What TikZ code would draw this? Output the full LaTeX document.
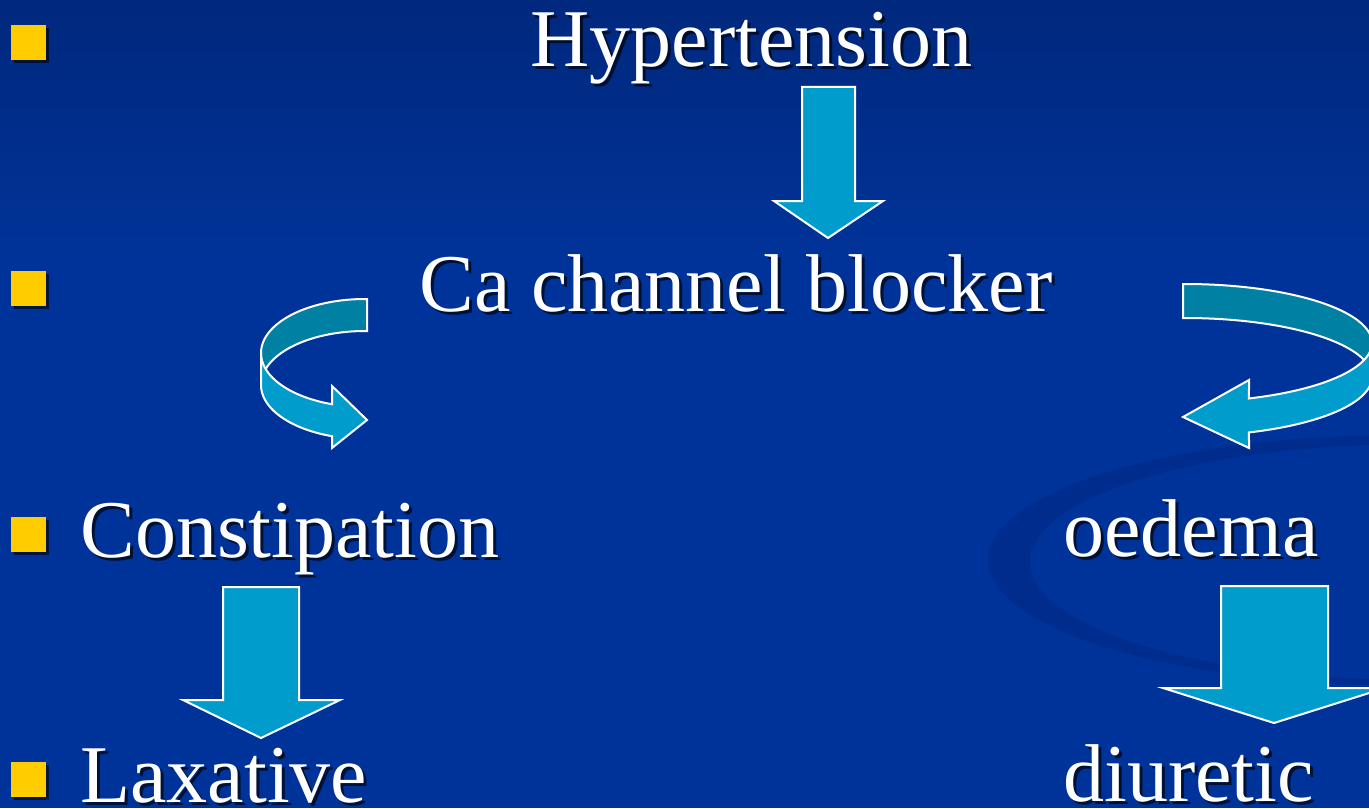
\documentclass[tikz,border=0pt]{standalone}
\usepackage{fontspec}
\setmainfont{Liberation Serif}
\usetikzlibrary{calc}
\definecolor{bgtop}{RGB}{0,40,125}
\definecolor{bgmain}{RGB}{0,51,153}
\definecolor{swoosh}{RGB}{0,38,128}
\definecolor{arrowfront}{RGB}{0,157,204}
\definecolor{arrowback}{RGB}{0,128,163}
\definecolor{bulletyellow}{RGB}{255,204,0}
\tikzset{
  label text/.style={text=white, inner sep=0pt, font=\fontsize{41}{49}\selectfont},
  shadow text/.style={text=black, opacity=0.65, inner sep=0pt, font=\fontsize{41}{49}\selectfont},
  blockarrow/.style={fill=arrowfront, draw=white, line width=1pt, line join=miter},
  backband/.style={fill=arrowback, draw=white, line width=1pt, line join=miter},
  bulletbox/.style={fill=bulletyellow, draw=none},
  bulletshadow/.style={fill=black, opacity=0.6, draw=none}
}
\begin{document}
\begin{tikzpicture}[x=0.5pt, y=-0.5pt]
\useasboundingbox (0,0) rectangle (1369,808);
\clip (0,0) rectangle (1369,808);
% background
\fill[bgmain] (0,0) rectangle (1369,808);
\shade[top color=bgtop, bottom color=bgmain] (0,0) rectangle (1369,260);
% background swoosh
\fill[swoosh, opacity=0.45, even odd rule]
  plot[domain=0:360, samples=120] ({1400+412*cos(\x)}, {560-125*sin(\x)})
  plot[domain=0:360, samples=120] ({1415+385*cos(\x)}, {562-118*sin(\x)});

% bullets
\foreach \n/\y in {1/25, 2/271, 3/517, 4/762} {
  \fill[bulletshadow] (14,\y+3) rectangle (49,\y+38);
  \fill[bulletbox] (11,\y) rectangle (46,\y+35) coordinate (b\n);
}

% text nodes (shadow, then white)
\foreach \px/\py/\anc/\txt in {751.5/67/base/Hypertension, 736/311/base/Ca channel blocker,
    80/557/base west/Constipation, 1063/556/base west/oedema,
    80/802/base west/Laxative, 1063/801/base west/diuretic} {
  \node[shadow text, anchor=\anc] at (\px+3,\py+3) {\txt};
}
\node[label text, anchor=base] (hyp) at (751.5,67) {Hypertension};
\node[label text, anchor=base] (ccb) at (736,311) {Ca channel blocker};
\node[label text, anchor=base west] (con) at (80,557) {Constipation};
\node[label text, anchor=base west] (oed) at (1063,556) {oedema};
\node[label text, anchor=base west] (lax) at (80,802) {Laxative};
\node[label text, anchor=base west] (diu) at (1063,801) {diuretic};

% straight block arrows
\draw[blockarrow] (802,87) -- (855,87) -- (855,201) -- (883,201) -- (828,238) coordinate (a1tip)
  -- (774,201) -- (802,201) -- cycle;
\draw[blockarrow] (223,587) -- (299,587) -- (299,700) -- (340,700) -- (261,738) coordinate (a2tip)
  -- (183,700) -- (223,700) -- cycle;
\draw[blockarrow] (1221,586) -- (1328,586) -- (1328,688) -- (1385,688) -- (1274,723) coordinate (a3tip)
  -- (1163,688) -- (1221,688) -- cycle;

% left curved arrow (Ca channel blocker -> Constipation)
\draw[backband]
  plot[domain=88.9:180, samples=40] ({365+104*cos(\x)}, {353-54*sin(\x)})
  -- plot[domain=180:88.9, samples=40] ({365+104*cos(\x)}, {385-54*sin(\x)}) -- cycle;
\draw[blockarrow]
  plot[domain=180:251.5, samples=40] ({365+104*cos(\x)}, {353-54*sin(\x)})
  -- (332,386) -- (367,420) coordinate (c1tip) -- (332,448)
  -- plot[domain=251.5:180, samples=40] ({365+104*cos(\x)}, {385-54*sin(\x)}) -- cycle;

% right curved arrow (Ca channel blocker -> oedema)
\draw[backband]
  plot[domain=90.6:0, samples=50] ({1185+187*cos(\x)}, {343-59*sin(\x)})
  -- plot[domain=0:90.6, samples=50] ({1185+187*cos(\x)}, {377-59*sin(\x)}) -- cycle;
\draw[blockarrow]
  plot[domain=0:-70, samples=40] ({1185+187*cos(\x)}, {343-59*sin(\x)})
  -- (1249,380) -- (1183,417) coordinate (c2tip) -- (1249,448)
  -- plot[domain=-70:0, samples=40] ({1185+187*cos(\x)}, {377-59*sin(\x)}) -- cycle;
\end{tikzpicture}
\end{document}
